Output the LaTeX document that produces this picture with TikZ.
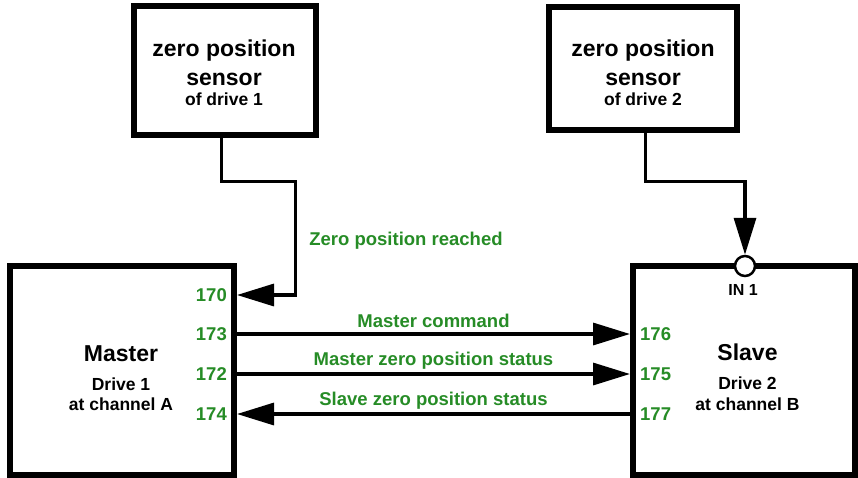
\documentclass[tikz,border=0pt]{standalone}
\usepackage{fontspec}
\setmainfont{Liberation Sans}
\usetikzlibrary{arrows.meta}
\definecolor{lblgreen}{RGB}{38,140,38}
\begin{document}
\begin{tikzpicture}[x=1pt,y=-1pt,
  box/.style={draw=black, line width=6pt, fill=white, inner sep=0pt},
  conn/.style={line width=3.3pt, line join=miter},
  tip/.tip={Triangle[length=37pt,width=22pt]},
  title/.style={font=\fontsize{23}{27}\selectfont\bfseries, anchor=base, inner sep=0pt},
  sub/.style={font=\fontsize{17.5}{21}\selectfont\bfseries, anchor=base, inner sep=0pt},
  glabel/.style={font=\fontsize{18.5}{22}\selectfont\bfseries, text=lblgreen, anchor=base, inner sep=0pt},
  port/.style={font=\fontsize{18.5}{22}\selectfont\bfseries, text=lblgreen, inner sep=0pt, text height=13.2pt, text depth=0pt},
  inport/.style={circle, draw=black, line width=2.5pt, fill=white, minimum size=20pt, inner sep=0pt}
]
\useasboundingbox (0,0) rectangle (858,477);

% boxes
\node[box, minimum width=182pt, minimum height=129pt] (s1) at (225,70.5) {};
\node[box, minimum width=188pt, minimum height=123pt] (s2) at (643,68.5) {};
\node[box, minimum width=224pt, minimum height=209pt] (master) at (122,370.5) {};
\node[box, minimum width=222pt, minimum height=209pt] (slave) at (744,370.5) {};

% sensor texts
\node[title] (s1a) at (224,56.5) {zero position};
\node[title] (s1b) at (224,85) {sensor};
\node[sub]   (s1c) at (224,105.5) {of drive 1};
\node[title] (s2a) at (643,56.5) {zero position};
\node[title] (s2b) at (643,85) {sensor};
\node[sub]   (s2c) at (643,105.5) {of drive 2};

% master / slave texts
\node[title] (mt) at (121,361) {Master};
\node[sub]   (md) at (121,390.5) {Drive 1};
\node[sub]   (mc) at (121,410.5) {at channel A};
\node[title] (st) at (747.5,360.5) {Slave};
\node[sub]   (sd) at (747.5,389.5) {Drive 2};
\node[sub]   (sc) at (747.5,410) {at channel B};

% ports
\node[port, anchor=east] (l170) at (227,295) {170};
\node[port, anchor=east] (l173) at (227,334) {173};
\node[port, anchor=east] (l172) at (227,374) {172};
\node[port, anchor=east] (l174) at (227,414) {174};
\node[port, anchor=west] (l176) at (640,334) {176};
\node[port, anchor=west] (l175) at (640,374) {175};
\node[port, anchor=west] (l177) at (640,414) {177};

% connector labels
\node[glabel] (zr) at (406,245) {Zero position reached};
\node[glabel] (mcmd) at (433.5,327) {Master command};
\node[glabel] (mzs) at (433.5,365.5) {Master zero position status};
\node[glabel] (szs) at (433.5,405.5) {Slave zero position status};

% IN 1 port
\node[inport] (in1) at (745,266) {};
\node[font=\fontsize{16}{19}\selectfont\bfseries, anchor=base, inner sep=0pt] (in1l) at (743,295) {IN 1};

% connectors
\coordinate (c1) at (295.5,181.5);
\coordinate (c2) at (745,181.5);
\draw[conn, -tip] ([xshift=-3.5pt]s1.south) |- (c1) |- (master.east |- l170);
\draw[conn, -tip] ([xshift=2.5pt]s2.south) |- (c2) -- (in1.north);
\draw[conn, -tip] (master.east |- l173) -- (slave.west |- l176);
\draw[conn, -tip] (master.east |- l172) -- (slave.west |- l175);
\draw[conn, tip-] (master.east |- l174) -- (slave.west |- l177);
\end{tikzpicture}
\end{document}
